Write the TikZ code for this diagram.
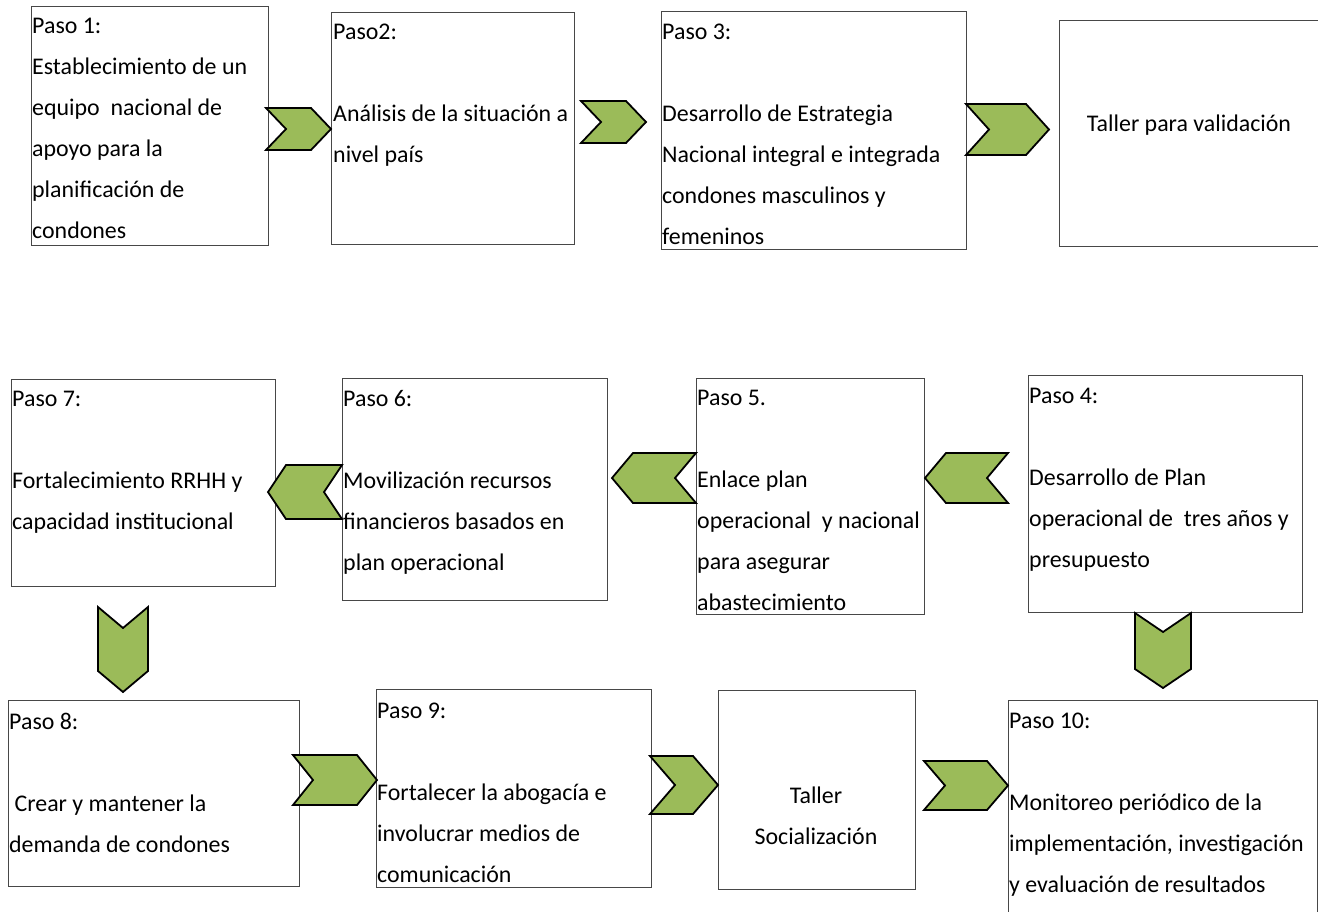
\documentclass[tikz,border=0pt]{standalone}
\usepackage{fontspec}
\setmainfont{Carlito}
\definecolor{chevgreen}{HTML}{9BBB59}
\newcommand\chevr[5]{\filldraw[chev] (#1,#2) -- ({#3-#5},#2) -- (#3,{(#2+#4)/2}) -- ({#3-#5},#4) -- (#1,#4) -- ({#1+#5},{(#2+#4)/2}) -- cycle;}
\newcommand\chevl[5]{\filldraw[chev] (#3,#2) -- ({#1+#5},#2) -- (#1,{(#2+#4)/2}) -- ({#1+#5},#4) -- (#3,#4) -- ({#3-#5},{(#2+#4)/2}) -- cycle;}
\newcommand\chevd[5]{\filldraw[chev] (#1,#2) -- ({(#1+#3)/2},{#2+#5}) -- (#3,#2) -- (#3,{#4-#5}) -- ({(#1+#3)/2},#4) -- (#1,{#4-#5}) -- cycle;}
\tikzset{
  box/.style={draw=black!72, line width=1pt, inner sep=0pt, anchor=north west},
  txt/.style={inner sep=0pt, anchor=north west, align=left, font=\fontsize{23.9}{41}\selectfont},
  ctxt/.style={inner sep=0pt, anchor=north, align=center, font=\fontsize{23.9}{41}\selectfont},
  chev/.style={fill=chevgreen, draw=black, line width=1.8pt, line join=miter},
}
\begin{document}
\begin{tikzpicture}[x=1pt,y=-1pt]
\useasboundingbox (0,0) rectangle (1318,911);
\clip (0,0) rectangle (1318,911);
% boxes row 1
\node[box, minimum width=237, minimum height=239] (b1) at (31,6) {};
\node[box, minimum width=243, minimum height=232] (b2) at (331,12) {};
\node[box, minimum width=305, minimum height=238] (b3) at (661,11) {};
\node[box, minimum width=280, minimum height=226] (bv) at (1059,20) {};
% row 2
\node[box, minimum width=264, minimum height=207] (b7) at (11,379) {};
\node[box, minimum width=265, minimum height=222] (b6) at (342,378) {};
\node[box, minimum width=228, minimum height=236] (b5) at (696,378) {};
\node[box, minimum width=274, minimum height=237] (b4) at (1028,375) {};
% row 3
\node[box, minimum width=291, minimum height=186] (b8) at (8,700) {};
\node[box, minimum width=275, minimum height=198] (b9) at (376,689) {};
\node[box, minimum width=197, minimum height=199] (bs) at (718,690) {};
\node[box, minimum width=309, minimum height=240] (b10) at (1008,700) {};
% texts (north = first baseline - 28.7)
\node[txt] (t1) at (32,5) {\strut Paso 1:\\Establecimiento de un\\equipo\ \ nacional de\\apoyo para la\\planificación de\\condones};
\node[txt] (t2) at (333,11) {\strut Paso2:\\[41pt]Análisis de la situación a\\nivel país};
\node[txt] (t3) at (662,11) {\strut Paso 3:\\[41pt]Desarrollo de Estrategia\\Nacional integral e integrada\\condones masculinos y\\femeninos};
\node[ctxt] (tv) at (1189,103) {\strut Taller para validación};
\node[txt] (t7) at (12,378) {\strut Paso 7:\\[41pt]Fortalecimiento RRHH y\\capacidad institucional};
\node[txt] (t6) at (343,378) {\strut Paso 6:\\[41pt]Movilización recursos\\financieros basados en\\plan operacional};
\node[txt] (t5) at (697,377) {\strut Paso 5.\\[41pt]Enlace plan\\operacional\ \ y nacional\\para asegurar\\abastecimiento};
\node[txt] (t4) at (1029,375) {\strut Paso 4:\\[41pt]Desarrollo de Plan\\operacional de\ \ tres años y\\presupuesto};
\node[txt] (t8) at (9,701) {\strut Paso 8:\\[41pt]\ Crear y mantener la\\demanda de condones};
\node[txt] (t9) at (377,690) {\strut Paso 9:\\[41pt]Fortalecer la abogacía e\\involucrar medios de\\comunicación};
\node[ctxt] (ts) at (816,775) {\strut Taller\\Socialización};
\node[txt] (t10) at (1009,700) {\strut Paso 10:\\[41pt]Monitoreo periódico de la\\implementación, investigación\\y evaluación de resultados};
% chevrons
\chevr{266}{108}{331}{150}{20}
\chevr{581}{101}{646}{143}{20}
\chevr{966}{104}{1049}{155}{23}
\chevl{268}{465}{342}{519}{18}
\chevl{612}{453}{696}{503}{21}
\chevl{925}{453}{1008}{503}{21}
\chevd{98}{607}{148}{692}{21}
\chevd{1135}{613}{1191}{688}{19}
\chevr{293}{755}{377}{805}{20}
\chevr{650}{756}{718}{814}{25}
\chevr{924}{761}{1008}{810}{21}
\end{tikzpicture}
\end{document}
